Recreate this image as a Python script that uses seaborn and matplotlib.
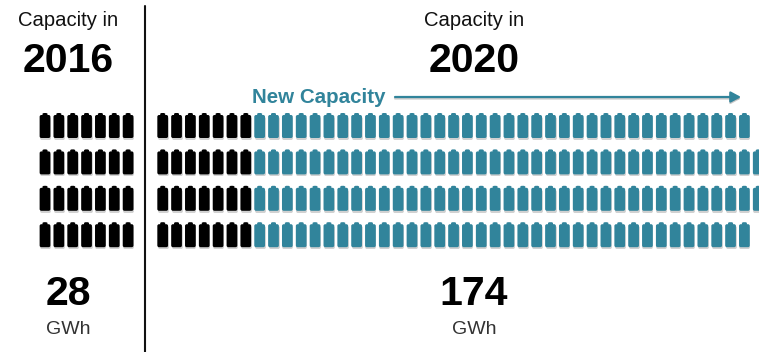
import matplotlib
matplotlib.use("Agg")
import matplotlib.pyplot as plt
from matplotlib.path import Path
import pandas as pd
import seaborn as sns

# one battery = 1 GWh
rows = [0, 1, 2, 3]
capacity_2016 = [7, 7, 7, 7]
existing_2020 = [7, 7, 7, 7]
new_2020 = [36, 37, 37, 36]
total_2016 = "28"
total_2020 = "174"
unit = "GWh"
year_a = "2016"
year_b = "2020"
heading = "Capacity in"
new_label = "New Capacity"

BLACK = "#000000"
TEAL = "#31849B"
W, H = 759, 352

# layout in pixels
X0, DX = 45.0, 13.85
Y0, DY = 125.5, 36.4
PANEL_B_START = (162.7 - X0) / DX


def px(x, y):
    return x / W, 1 - y / H


def battery_path():
    w, t, b = 0.43, 0.84, -1.0
    r = 0.14
    n = 0.20
    verts = [(-w + r, b), (w - r, b), (w, b), (w, b + r), (w, t - r), (w, t), (w - r, t),
             (n, t), (n, 0.95), (0.10, 1.0), (-0.10, 1.0), (-n, 0.95), (-n, t),
             (-w + r, t), (-w, t), (-w, t - r), (-w, b + r), (-w, b), (-w + r, b), (-w + r, b)]
    codes = [Path.MOVETO, Path.LINETO, Path.CURVE3, Path.CURVE3, Path.LINETO, Path.CURVE3, Path.CURVE3,
             Path.LINETO, Path.LINETO, Path.LINETO, Path.LINETO, Path.LINETO, Path.LINETO,
             Path.LINETO, Path.CURVE3, Path.CURVE3, Path.LINETO, Path.CURVE3, Path.CURVE3, Path.CLOSEPOLY]
    return Path(verts, codes)


records = []
for r, a, e, n in zip(rows, capacity_2016, existing_2020, new_2020):
    for c in range(a):
        records.append({"col": c, "row": r, "kind": "old"})
    for c in range(e):
        records.append({"col": PANEL_B_START + c, "row": r, "kind": "old"})
    for c in range(n):
        records.append({"col": PANEL_B_START + e + c, "row": r, "kind": "new"})
df = pd.DataFrame(records)

sns.set_theme(style="white")
plt.rcParams["font.family"] = ["Liberation Sans", "DejaVu Sans"]

fig = plt.figure(figsize=(W / 100, H / 100), dpi=100)
ax = fig.add_axes([0, 0, 1, 1])
ax.set_xlim(-X0 / DX, (W - X0) / DX)
ax.set_ylim((H - Y0) / DY, -Y0 / DY)
ax.axis("off")

marker = battery_path()
size = (25 * 0.72) ** 2

# soft drop shadow, then the batteries
shadow = df.assign(row=df["row"] + 1.5 / DY)
sns.scatterplot(data=shadow, x="col", y="row", marker=marker, s=size, color="#999999",
                alpha=0.45, linewidth=0, legend=False, ax=ax, zorder=1)
sns.scatterplot(data=df, x="col", y="row", hue="kind", palette={"old": BLACK, "new": TEAL},
                marker=marker, s=size, linewidth=0, legend=False, ax=ax, zorder=2)
ax.set_xlim(-X0 / DX, (W - X0) / DX)
ax.set_ylim((H - Y0) / DY, -Y0 / DY)
ax.set_xlabel("")
ax.set_ylabel("")

# divider
fig.add_artist(plt.Line2D([144.5 / W] * 2, [1 - 6 / H, 0], color="#111111", lw=1.5))

# arrow
for off, col, al in [(1.5, "#999999", 0.5), (0, TEAL, 1)]:
    ax.annotate("", xy=px(741, 97 + off), xytext=px(395, 97 + off), xycoords="figure fraction",
                textcoords="figure fraction",
                arrowprops=dict(arrowstyle="-|>,head_length=0.5,head_width=0.27", color=col, lw=1.6,
                                alpha=al, shrinkA=0, shrinkB=0))


def label(x, y, s, size, weight="normal", color="#111111", ha="center"):
    fx, fy = px(x, y)
    fig.text(fx, fy, s, fontsize=size, fontweight=weight, color=color, ha=ha, va="baseline")


for cx, year, total in [(68, year_a, total_2016), (474, year_b, total_2020)]:
    label(cx, 26, heading, 14.6)
    label(cx, 72, year, 29.5, "bold", "#000000")
    label(cx, 305, total, 29.5, "bold", "#000000")
    label(cx, 334, unit, 14.0, color="#333333")

label(252, 103, new_label, 14.8, "bold", TEAL, ha="left")

fig.savefig("out.png", dpi=100, facecolor="white")
